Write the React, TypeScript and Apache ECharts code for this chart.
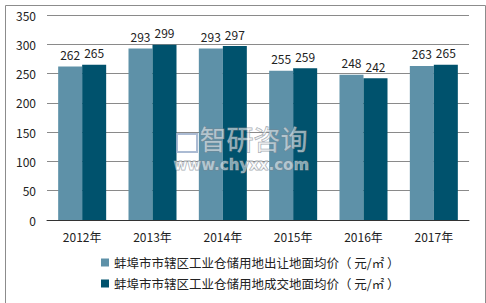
import React, { useEffect, useRef } from "react";
import * as echarts from "echarts";

const categories = ["2012年", "2013年", "2014年", "2015年", "2016年", "2017年"];
const seriesNames = [
  "蚌埠市市辖区工业仓储用地出让地面均价（ 元/㎡ ）",
  "蚌埠市市辖区工业仓储用地成交地面均价（ 元/㎡ ）",
];
const transferPrice = [262, 293, 293, 255, 248, 263];
const dealPrice = [265, 299, 297, 259, 242, 265];

const FONT = "'Noto Sans CJK SC', 'Noto Sans', sans-serif";

export default function App() {
  const ref = useRef<HTMLDivElement>(null);
  useEffect(() => {
    if (!ref.current) return;
    const chart = echarts.init(ref.current, null, { renderer: "svg" });
    const label = {
      show: true,
      position: "top" as const,
      distance: 6,
      color: "#222",
      fontSize: 12,
      fontFamily: FONT,
    };
    chart.setOption({
      animation: false,
      backgroundColor: "#fff",
      textStyle: { fontFamily: FONT },
      grid: { left: 47, right: 17, top: 15, bottom: 83, containLabel: false },
      xAxis: {
        type: "category",
        data: categories,
        axisLine: { lineStyle: { color: "#333", width: 1 } },
        axisTick: { show: false },
        axisLabel: { color: "#222", fontSize: 12, margin: 10, fontFamily: FONT },
      },
      yAxis: {
        type: "value",
        min: 0,
        max: 350,
        interval: 50,
        axisLine: { show: false },
        axisTick: { show: false },
        axisLabel: { color: "#222", fontSize: 12, margin: 11, fontFamily: FONT },
        splitLine: { lineStyle: { color: "#8a8a8a", width: 1 } },
      },
      legend: {
        orient: "vertical",
        left: 96,
        top: 250,
        itemWidth: 8,
        itemHeight: 8,
        itemGap: 6,
        icon: "rect",
        textStyle: { color: "#222", fontSize: 12.5, lineHeight: 15, fontFamily: FONT },
        data: seriesNames,
      },
      series: [
        {
          name: seriesNames[0],
          type: "bar",
          data: transferPrice,
          barWidth: 24,
          barGap: "0%",
          itemStyle: { color: "#5e91a8" },
          label,
        },
        {
          name: seriesNames[1],
          type: "bar",
          data: dealPrice,
          barWidth: 24,
          barGap: "0%",
          itemStyle: { color: "#00526d" },
          label,
        },
      ],
      graphic: [
        {
          type: "rect",
          left: 3,
          top: 3,
          shape: { width: 480, height: 298 },
          style: { fill: "none", stroke: "#8c8c8c", lineWidth: 1 },
          silent: true,
        },
        {
          type: "rect",
          left: 176,
          top: 133,
          shape: { width: 20, height: 18 },
          style: { fill: "rgba(255,255,255,0.45)", stroke: "rgba(150,170,200,0.8)", lineWidth: 2 },
          silent: true,
          z: 100,
        },
        {
          type: "text",
          left: 199,
          top: 124,
          style: {
            text: "智研咨询",
            fontSize: 27,
            lineHeight: 28,
            fontFamily: FONT,
            fill: "rgba(255,255,255,0.5)",
            stroke: "rgba(120,130,140,0.7)",
            lineWidth: 1,
          },
          silent: true,
          z: 100,
        },
        {
          type: "text",
          left: 173,
          top: 157,
          style: {
            text: "www.chyxx.com",
            fontSize: 15,
            lineHeight: 15,
            fontWeight: "bold",
            fontFamily: "'DejaVu Sans', sans-serif",
            fill: "rgba(255,255,255,0.5)",
            stroke: "rgba(120,130,140,0.7)",
            lineWidth: 1,
          },
          silent: true,
          z: 100,
        },
      ],
    });
    return () => chart.dispose();
  }, []);
  return (
    <div
      ref={ref}
      style={{ position: "fixed", left: 0, top: 0, width: 486, height: 303 }}
    />
  );
}
